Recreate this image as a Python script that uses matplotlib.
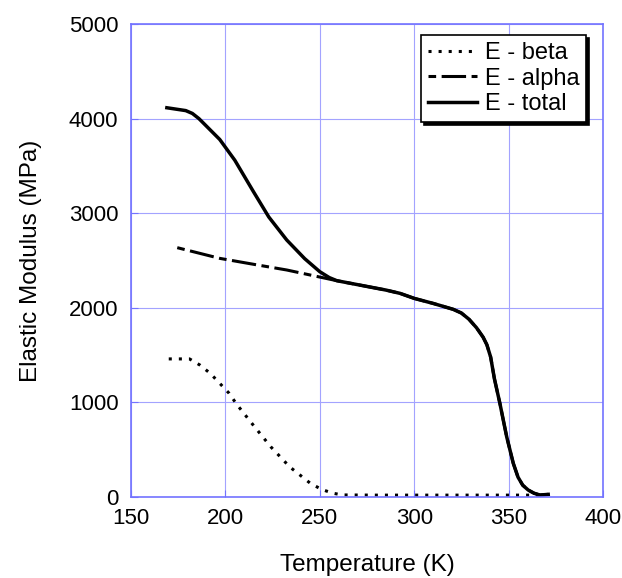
import matplotlib.pyplot as plt
import numpy as np

plt.rcParams['font.family'] = ['Liberation Sans', 'DejaVu Sans']

# values
t_beta = [170, 181, 186.5, 192, 197, 202, 206, 215, 224, 234, 245, 251, 257, 262, 280, 300, 320, 340, 360, 366]
e_beta = [1460, 1460, 1395, 1307, 1202, 1096, 980, 754, 532, 320, 145, 80, 40, 22, 20, 20, 20, 20, 20, 20]

t_alpha = [174.5, 197, 215, 232.5, 259, 285, 292.5, 300, 310, 320.7, 325, 329, 333, 336.5, 338.5, 340.5,
           342.5, 345.4, 349, 352.5, 355, 357.5, 360.4, 363.5, 366.6, 371]
e_alpha = [2636, 2523, 2460, 2400, 2287, 2188, 2153, 2100, 2047, 1984, 1945, 1880, 1790, 1690, 1610, 1480,
           1250, 990, 637, 356, 210, 125, 74, 40, 21, 28]

t_total = [169, 179, 182.5, 186, 191, 197, 205, 214.8, 223, 232.5, 242, 250, 255, 259, 285, 292.5, 300, 310,
           320.7, 325, 329, 333, 336.5, 338.5, 340.5, 342.5, 345.4, 349, 352.5, 355, 357.5, 360.4, 363.5,
           366.6, 371]
e_total = [4115, 4085, 4055, 4000, 3900, 3780, 3560, 3230, 2960, 2717, 2520, 2382, 2320, 2287, 2188, 2153, 2100,
           2047, 1984, 1945, 1880, 1790, 1690, 1610, 1480, 1250, 990, 637, 356, 210, 125, 74, 40, 21, 28]

x_ticks = [150, 200, 250, 300, 350, 400]
y_ticks = [0, 1000, 2000, 3000, 4000, 5000]

grid_blue = (0.64, 0.64, 1.0)
edge_blue = (0.45, 0.45, 1.0)

fig = plt.figure(figsize=(6.22, 5.78), dpi=100)
ax = fig.add_axes([0.2106, 0.1401, 0.7588, 0.8183])

ax.plot(t_beta, e_beta, color='black', lw=2.2, dashes=(1, 2.3), dash_capstyle='butt', label='E - beta')
ax.plot(t_alpha, e_alpha, color='black', lw=2.2, dashes=(2.5, 1.8, 8, 1.8), label='E - alpha')
ax.plot(t_total, e_total, color='black', lw=2.5, label='E - total')

ax.set_xlim(150, 400)
ax.set_ylim(0, 5000)
ax.set_xticks(x_ticks)
ax.set_yticks(y_ticks)
ax.tick_params(direction='in', length=5, color=edge_blue, labelsize=16)
ax.tick_params(axis='x', pad=8)
ax.tick_params(axis='y', pad=9)
ax.grid(True, color=grid_blue, lw=0.8)
for s in ax.spines.values():
    s.set_color(edge_blue)
    s.set_linewidth(1.2)

ax.set_xlabel('Temperature (K)', fontsize=17.5, labelpad=18)
ax.set_ylabel('Elastic Modulus (MPa)', fontsize=17.5, labelpad=19)

leg = ax.legend(loc='upper left', bbox_to_anchor=(0.614, 0.977), borderaxespad=0,
                fontsize=17, handlelength=2.1, handletextpad=0.3, labelspacing=0.15,
                borderpad=0.3, fancybox=False, framealpha=1,
                shadow={'color': 'black', 'alpha': 1})
leg.get_frame().set_edgecolor('black')
leg.get_frame().set_linewidth(1.2)

fig.savefig('out.png', dpi=100)
